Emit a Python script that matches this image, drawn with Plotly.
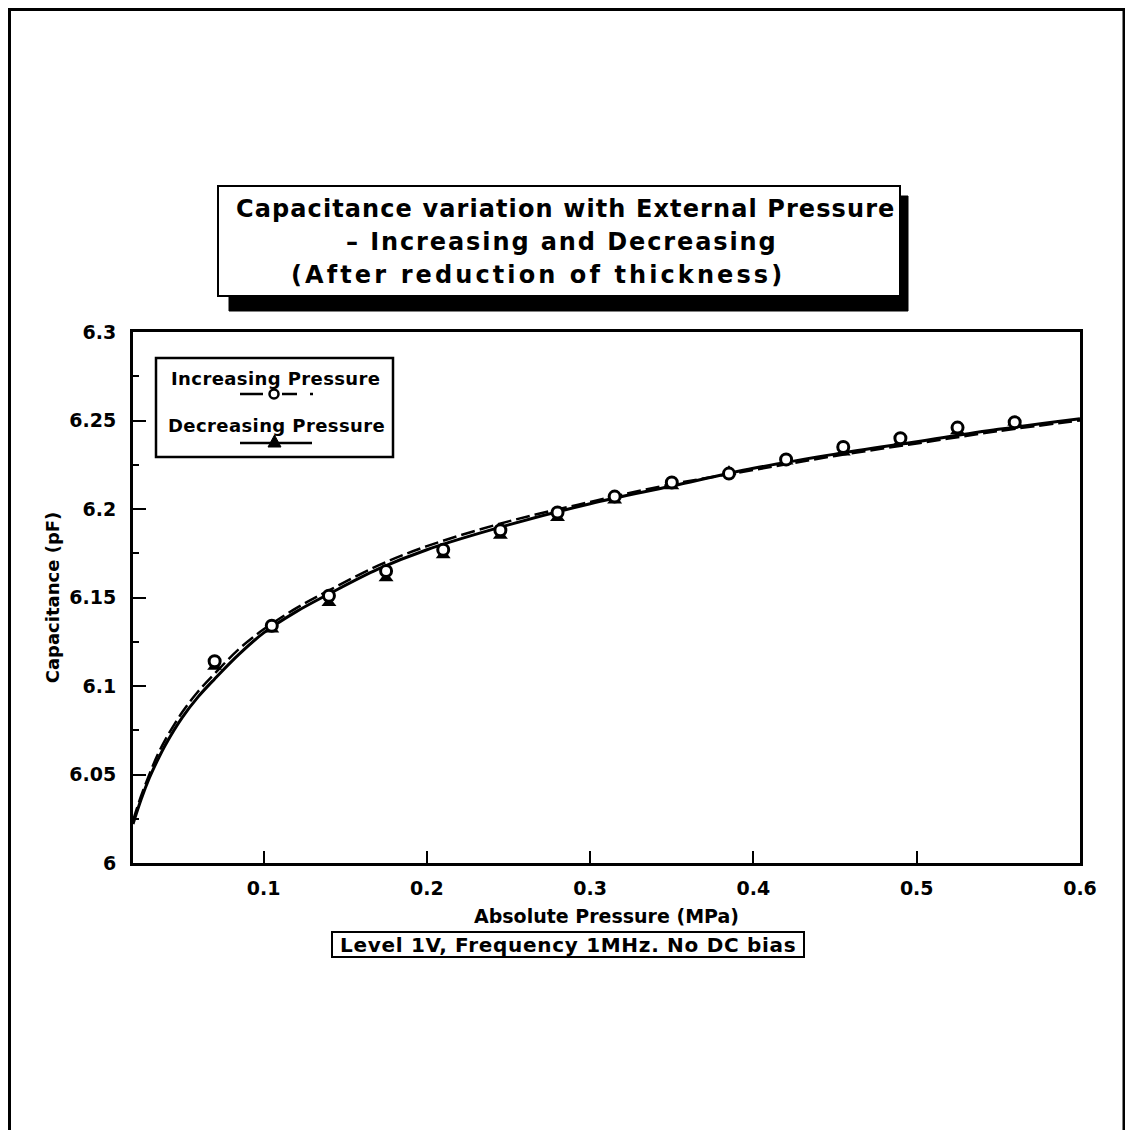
import plotly.graph_objects as go

# ---- data ----
pressure = [0.07, 0.105, 0.14, 0.175, 0.21, 0.245, 0.28, 0.315, 0.35, 0.385,
            0.42, 0.455, 0.49, 0.525, 0.56]
cap_increasing = [6.114, 6.134, 6.151, 6.165, 6.177, 6.188, 6.198, 6.207, 6.215,
                  6.220, 6.228, 6.235, 6.240, 6.246, 6.249]
cap_decreasing = [6.111, 6.132, 6.147, 6.161, 6.174, 6.185, 6.195, 6.205, 6.213,
                  6.221, 6.227, 6.232, 6.238, 6.244, 6.249]

fit_pressure = [0.02, 0.025, 0.03, 0.035, 0.04, 0.05, 0.06, 0.07, 0.085, 0.1, 0.12,
                0.14, 0.17, 0.2, 0.25, 0.3, 0.35, 0.4, 0.45, 0.5, 0.55, 0.6]
fit_decreasing = [6.022, 6.036, 6.048, 6.058, 6.067, 6.082, 6.094, 6.104, 6.118,
                  6.130, 6.142, 6.152, 6.166, 6.177, 6.191, 6.203, 6.213, 6.223,
                  6.231, 6.238, 6.245, 6.251]
fit_increasing = [6.024, 6.038, 6.050, 6.061, 6.070, 6.085, 6.097, 6.107, 6.121,
                  6.132, 6.144, 6.154, 6.168, 6.179, 6.193, 6.204, 6.214, 6.222,
                  6.230, 6.237, 6.244, 6.250]

x_tickvals = [0.1, 0.2, 0.3, 0.4, 0.5, 0.6]
x_ticktext = ["0.1", "0.2", "0.3", "0.4", "0.5", "0.6"]
y_tickvals = [6.0, 6.05, 6.1, 6.15, 6.2, 6.25, 6.3]
y_ticktext = ["6", "6.05", "6.1", "6.15", "6.2", "6.25", "6.3"]

title_lines = ["Capacitance variation with External Pressure",
               "– Increasing and Decreasing",
               "(After reduction of thickness)"]
legend_labels = ["Increasing Pressure", "Decreasing Pressure"]
note_text = "Level 1V, Frequency 1MHz. No DC bias"

FONT = "DejaVu Sans"
WEIGHT = "bold"

# ---- layout geometry in page pixels (page has an 8px body margin) ----
OFF = 8
PAGE_W, PAGE_H = 1133, 1138
W, H = PAGE_W - OFF, PAGE_H - 2 * OFF
L, R, T, B = 133, 1080, 332, 863   # plot area in page pixels


def fx(px):
    return (px - L) / (R - L)


def fy(py):
    return (B - py) / (B - T)


def spaced(text, ls):
    return '<span style="letter-spacing:{}px">{}</span>'.format(ls, text)


def tfont(size):
    return dict(family=FONT, size=size, color="black", weight=WEIGHT)


fig = go.Figure()

fig.add_trace(go.Scatter(x=fit_pressure, y=fit_decreasing, mode="lines",
                         line=dict(color="black", width=3, shape="spline"),
                         name="Decreasing fit", hoverinfo="skip"))
fig.add_trace(go.Scatter(x=fit_pressure, y=fit_increasing, mode="lines",
                         line=dict(color="black", width=2.5, shape="spline",
                                   dash="14px,5px"),
                         name="Increasing fit", hoverinfo="skip"))
fig.add_trace(go.Scatter(x=pressure, y=cap_decreasing, mode="markers",
                         marker=dict(symbol="triangle-up", size=13, color="black"),
                         name=legend_labels[1]))
fig.add_trace(go.Scatter(x=pressure, y=cap_increasing, mode="markers",
                         marker=dict(symbol="circle", size=11, color="white",
                                     line=dict(color="black", width=3)),
                         name=legend_labels[0]))

shapes = []
# outer frame
shapes.append(dict(type="rect", xref="paper", yref="paper",
                   x0=fx(9.5), x1=fx(1124), y0=fy(1160), y1=fy(9.5),
                   line=dict(color="black", width=3)))
# title box with shadow
shapes.append(dict(type="rect", xref="paper", yref="paper",
                   x0=fx(229), x1=fx(908), y0=fy(311), y1=fy(196),
                   fillcolor="black", line=dict(color="black", width=1)))
shapes.append(dict(type="rect", xref="paper", yref="paper",
                   x0=fx(218), x1=fx(900), y0=fy(296), y1=fy(186),
                   fillcolor="white", line=dict(color="black", width=2)))
# legend box
shapes.append(dict(type="rect", xref="paper", yref="paper",
                   x0=fx(156), x1=fx(393), y0=fy(457), y1=fy(358),
                   line=dict(color="black", width=2.5)))
# legend samples
shapes.append(dict(type="line", xref="paper", yref="paper",
                   x0=fx(240), x1=fx(313), y0=fy(394), y1=fy(394),
                   line=dict(color="black", width=2.5,
                             dash="23px,19px,15px,13px,3px,40px")))
shapes.append(dict(type="circle", xref="paper", yref="paper",
                   x0=fx(269.5), x1=fx(278.5), y0=fy(398.5), y1=fy(389.5),
                   fillcolor="white", line=dict(color="black", width=2.5)))
shapes.append(dict(type="line", xref="paper", yref="paper",
                   x0=fx(240), x1=fx(312), y0=fy(443), y1=fy(443),
                   line=dict(color="black", width=2.5)))
shapes.append(dict(type="path", xref="paper", yref="paper",
                   path="M {} {} L {} {} L {} {} Z".format(
                       fx(268), fy(447), fx(281), fy(447), fx(274.5), fy(435)),
                   fillcolor="black", line=dict(color="black", width=1)))
# conditions box
shapes.append(dict(type="rect", xref="paper", yref="paper",
                   x0=fx(332), x1=fx(804), y0=fy(957), y1=fy(932),
                   line=dict(color="black", width=2)))

annotations = []
title_pos = [(566, 209, 1.1), (562, 242, 1.9), (538, 275, 3.1)]
for txt, (cx, cy, ls) in zip(title_lines, title_pos):
    annotations.append(dict(text=spaced(txt, ls), xref="paper", yref="paper",
                            x=fx(cx), y=fy(cy), xanchor="center", yanchor="middle",
                            showarrow=False, font=tfont(24)))
for txt, (cx, cy) in zip(legend_labels, [(275.5, 378), (276.5, 425)]):
    annotations.append(dict(text=spaced(txt, 0.4), xref="paper", yref="paper",
                            x=fx(cx), y=fy(cy), xanchor="center", yanchor="middle",
                            showarrow=False, font=tfont(18)))
annotations.append(dict(text=spaced(note_text, 0.7), xref="paper", yref="paper",
                        x=fx(568), y=fy(945), xanchor="center", yanchor="middle",
                        showarrow=False, font=tfont(20)))

fig.update_layout(
    width=W, height=H,
    margin=dict(l=L - OFF, r=W - (R - OFF), t=T - OFF, b=H - (B - OFF),
                autoexpand=False),
    paper_bgcolor="white", plot_bgcolor="white",
    showlegend=False,
    font=dict(family=FONT, color="black"),
    shapes=shapes, annotations=annotations,
    xaxis=dict(range=[0.02, 0.6], tickvals=x_tickvals, ticktext=x_ticktext,
               ticks="inside", ticklen=12, tickwidth=2, tickcolor="black",
               ticklabelstandoff=6,
               showline=True, linewidth=3, linecolor="black", mirror=True,
               showgrid=False, zeroline=False,
               tickfont=tfont(19),
               title=dict(text="Absolute Pressure (MPa)", standoff=12,
                          font=tfont(19))),
    yaxis=dict(range=[6.0, 6.3], tickvals=y_tickvals, ticktext=y_ticktext,
               ticks="inside", ticklen=13, tickwidth=2, tickcolor="black",
               minor=dict(dtick=0.025, tick0=6.0, ticks="inside", ticklen=6,
                          tickwidth=2, tickcolor="black"),
               ticklabelstandoff=10,
               showline=True, linewidth=3, linecolor="black", mirror=True,
               showgrid=False, zeroline=False,
               tickfont=tfont(19),
               title=dict(text="Capacitance (pF)", standoff=6,
                          font=tfont(18))),
)

fig.write_html("out.html")
